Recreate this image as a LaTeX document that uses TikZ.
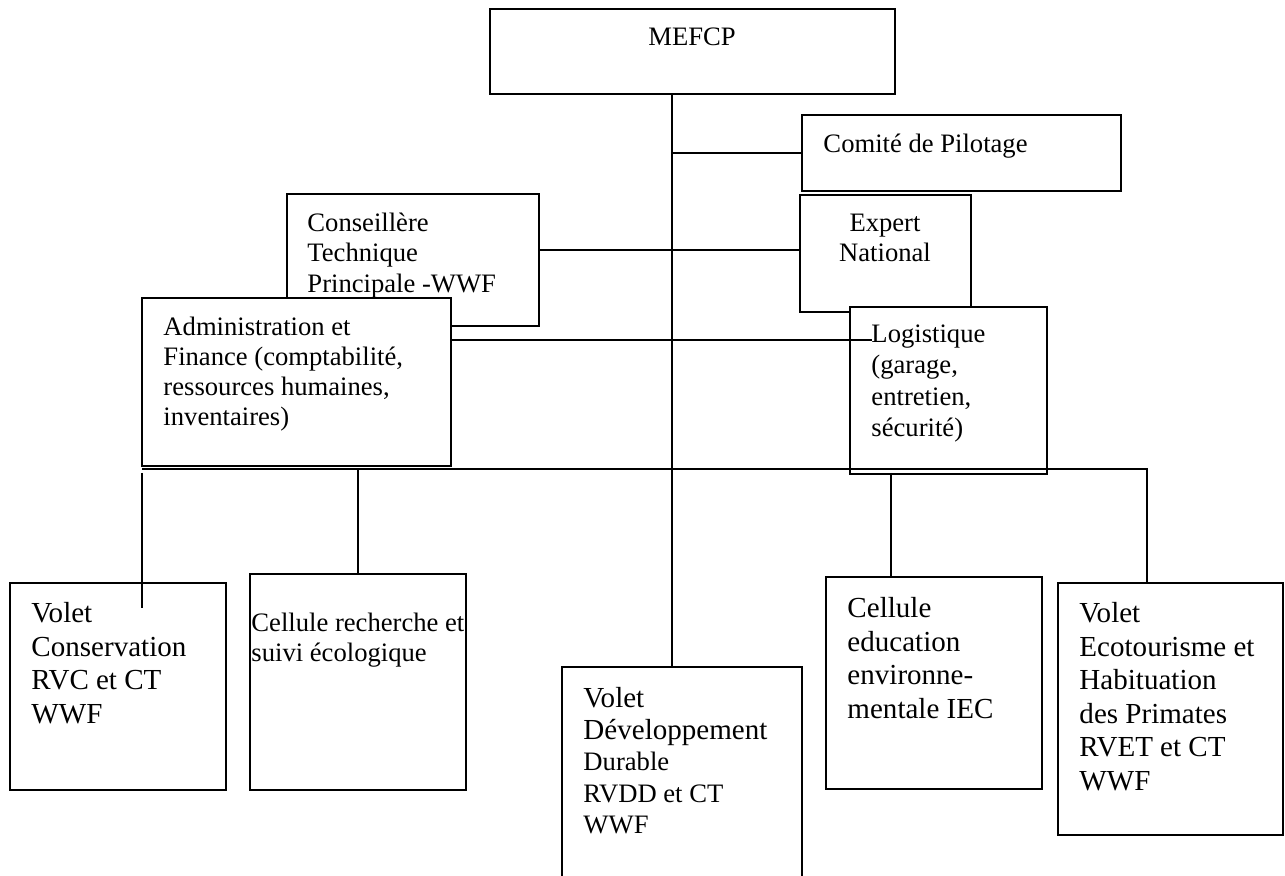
\documentclass[tikz,border=0pt]{standalone}
\usepackage{fontspec}
\setmainfont{Liberation Serif}
\usetikzlibrary{fit}

\begin{document}
\begin{tikzpicture}[x=0.4132pt,y=-0.4132pt]
 % style des noeuds
  \tikzstyle{cadre}=[rectangle,draw,line width=0.6pt,inner sep=0pt]
  \tikzstyle{cache}=[cadre,fill=white]
  \tikzstyle{grand}=[anchor=north west,align=left,inner sep=0pt,font=\fontsize{12}{13.84}\selectfont]
  \tikzstyle{moyen}=[anchor=north west,align=left,inner sep=0pt,font=\fontsize{11}{12.4}\selectfont]
 % style des traits
  \tikzstyle{lien}=[line width=0.7pt]
  \useasboundingbox (0,0) rectangle (1285,876);
 % placement des cadres
  \node[cadre,fit={(490,9) (895,94)}] (mefcp) {};
  \node[cadre,fit={(802,115) (1121,191)}] (comite) {};
  \node[cadre,fit={(287,194) (539,326)}] (conseil) {};
  \node[cadre,fit={(800,195) (971,312)}] (expert) {};
  \node[cache,fit={(142,298) (451,466)}] (admin) {};
  \node[cache,fit={(850,307) (1047,474)}] (logi) {};
  \node[cadre,fit={(10,583) (226,790)}] (conserv) {};
  \node[cadre,fit={(250,574) (466,790)}] (recherche) {};
  \node[cadre,fit={(562,667) (802,890)}] (dev) {};
  \node[cadre,fit={(826,577) (1042,789)}] (educ) {};
  \node[cadre,fit={(1058,583) (1283,835)}] (eco) {};
 % placement des textes
  \node[moyen,anchor=center] (t-mefcp) at (692,37) {MEFCP};
  \node[moyen] (t-comite) at (823,134) {Comité de Pilotage};
  \node[moyen,anchor=north,align=center] (t-expert) at (885,214) {Expert\\National};
  \node[moyen] (t-conseil) at (307,213) {Conseillère\\Technique\\Principale -WWF};
  \node[moyen] (t-admin) at (163,317) {Administration et\\Finance (comptabilité,\\ressources humaines,\\inventaires)};
  \node[moyen,font=\fontsize{11}{13}\selectfont] (t-logi) at (871,324) {Logistique\\(garage,\\entretien,\\sécurité)};
  \node[grand] (t-conserv) at (31,602) {Volet\\Conservation\\RVC et CT\\WWF};
  \node[moyen] (t-recherche) at (251,613) {Cellule recherche et\\suivi écologique};
  \node[grand,font=\fontsize{12}{13}\selectfont] (t-dev) at (583,687) {Volet\\Développement\\{\fontsize{11}{13}\selectfont Durable}\\{\fontsize{11}{13}\selectfont RVDD et CT}\\{\fontsize{11}{13}\selectfont WWF}};
  \node[grand] (t-educ) at (847,597) {Cellule\\education\\environne-\\mentale IEC};
  \node[grand] (t-eco) at (1079,602) {Volet\\Ecotourisme et\\Habituation\\des Primates\\RVET et CT\\WWF};
 % placement des traits
  \coordinate (axe) at (672,0);
  \coordinate (ligne) at (0,250);
  \coordinate (bus-g) at (142,469);
  \coordinate (bus-d) at (1147,469);
  \coordinate (logi-in) at (872,340);
  \coordinate (conserv-haut) at (142,473);
  \coordinate (conserv-in) at (142,608);
  \coordinate (educ-haut) at (891,473);
  \draw[lien] (mefcp.south -| axe) -- (dev.north -| axe);
  \draw[lien] (comite.west -| axe) -- (comite.west);
  \draw[lien] (conseil.east |- ligne) -- (expert.west |- ligne);
  \draw[lien] (admin.east |- logi-in) -- (logi-in);
  \draw[lien] (bus-g) -- (bus-d) -- (bus-d |- eco.north);
  \draw[lien] (conserv-haut) -- (conserv-in);
  \draw[lien] (recherche.north |- bus-g) -- (recherche.north);
  \draw[lien] (educ-haut) -- (educ-haut |- educ.north);
\end{tikzpicture}
\end{document}
